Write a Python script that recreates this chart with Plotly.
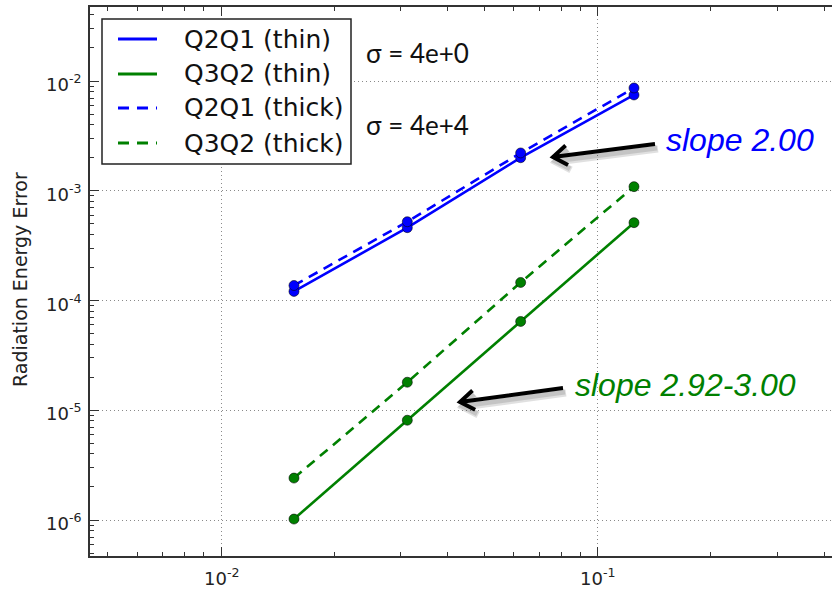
import math
import plotly.graph_objects as go

# Mesh size h and radiation energy error for each element pairing
h = [1 / 64, 1 / 32, 1 / 16, 1 / 8]
q2q1_thin = [1.21e-4, 4.61e-4, 2.00e-3, 7.46e-3]
q3q2_thin = [1.02e-6, 8.11e-6, 6.44e-5, 5.12e-4]
q2q1_thick = [1.37e-4, 5.22e-4, 2.21e-3, 8.64e-3]
q3q2_thick = [2.41e-6, 1.80e-5, 1.46e-4, 1.09e-3]

series_names = ["Q2Q1 (thin)", "Q3Q2 (thin)", "Q2Q1 (thick)", "Q3Q2 (thick)"]
series_values = [q2q1_thin, q3q2_thin, q2q1_thick, q3q2_thick]
series_colors = ["#0000ff", "#008000", "#0000ff", "#008000"]
series_dash = ["solid", "solid", "10px,7px", "10px,7px"]

sigma_labels = ["σ = 4e+0", "σ = 4e+4"]
slope_labels = ["slope 2.00", "slope 2.92-3.00"]

x_major = [1e-2, 1e-1]
x_major_text = ["10<sup>-2</sup>", "10<sup>-1</sup>"]
y_major = [1e-6, 1e-5, 1e-4, 1e-3, 1e-2]
y_major_text = ["10<sup>-6</sup>", "10<sup>-5</sup>", "10<sup>-4</sup>",
                "10<sup>-3</sup>", "10<sup>-2</sup>"]

W, H = 832, 589
L, R, T, B = 90, 832, 7, 556


def px(x):
    return (x - L) / (R - L)


def py(y):
    return (B - y) / (B - T)


def minor_vals(lo_exp, hi_exp):
    return [m * 10 ** e for e in range(lo_exp, hi_exp + 1) for m in range(2, 10)]


fig = go.Figure()
for name, vals, col, dash in zip(series_names, series_values, series_colors, series_dash):
    fig.add_trace(go.Scatter(
        x=h, y=vals, name=name, mode="lines+markers", showlegend=False,
        line=dict(color=col, width=2.6, dash=dash),
        marker=dict(symbol="circle", size=10, color=col,
                    line=dict(color="rgba(0,0,0,0.55)", width=1)),
    ))

shapes = []
annotations = []

# Power-of-ten tick labels (superscript exponents)
tick_font = dict(family="DejaVu Sans", size=18, color="#222")
for v, txt in zip(x_major, x_major_text):
    annotations.append(dict(xref="x", x=math.log10(v), yref="paper", y=py(577),
                            xanchor="center", yanchor="middle", showarrow=False,
                            text=txt, font=tick_font))
for v, txt in zip(y_major, y_major_text):
    annotations.append(dict(xref="paper", x=px(83), yref="y", y=math.log10(v),
                            xanchor="right", yanchor="middle", showarrow=False,
                            yshift=-2, text=txt, font=tick_font))

# Legend box with line samples
shapes.append(dict(type="rect", xref="paper", yref="paper",
                   x0=px(102), x1=px(351), y0=py(164), y1=py(19),
                   line=dict(color="#222", width=1.5), fillcolor="white", layer="above"))
row_y = [39, 74, 108, 143]
for name, col, dash, ry in zip(series_names, series_colors, series_dash, row_y):
    shapes.append(dict(type="line", xref="paper", yref="paper",
                       x0=px(118), x1=px(157), y0=py(ry), y1=py(ry),
                       line=dict(color=col, width=3, dash=("solid" if dash == "solid" else "11px,8px")),
                       layer="above"))
    annotations.append(dict(xref="paper", yref="paper", x=px(182), y=py(ry),
                            xanchor="left", yanchor="middle", showarrow=False, text=name,
                            font=dict(family="DejaVu Sans", size=25, color="#111")))

# Material opacity labels
for lab, sy in zip(sigma_labels, [53, 125]):
    annotations.append(dict(xref="paper", yref="paper", x=px(364), y=py(sy),
                            xanchor="left", yanchor="middle", showarrow=False, text=lab,
                            font=dict(family="Lato", size=26, color="#111")))

# Convergence-rate labels
for lab, col, (lx, ly) in zip(slope_labels, ["#0000ff", "#008000"], [(664, 140), (573, 385)]):
    annotations.append(dict(xref="paper", yref="paper", x=px(lx), y=py(ly),
                            xanchor="left", yanchor="middle", showarrow=False, text=lab,
                            font=dict(family="Liberation Sans", size=32, color=col,
                                      style="italic")))

# Arrows pointing at the convergence lines (with soft drop shadow)
arrows = [((655, 144), (553, 157)), ((563, 388), (460, 402))]


def arrow_path(tail, head, dx=0.0, dy=0.0):
    tx, ty = tail[0] + dx, tail[1] + dy
    hx, hy = head[0] + dx, head[1] + dy
    vx, vy = tx - hx, ty - hy
    n = math.hypot(vx, vy)
    vx, vy = vx / n, vy / n
    pts = []
    for ang in (math.radians(35), math.radians(-35)):
        c, s = math.cos(ang), math.sin(ang)
        wx = hx + 17 * (vx * c - vy * s)
        wy = hy + 17 * (vx * s + vy * c)
        pts.append((wx, wy))
    p = f"M {px(tx)},{py(ty)} L {px(hx)},{py(hy)} "
    p += f"M {px(pts[0][0])},{py(pts[0][1])} L {px(hx)},{py(hy)} L {px(pts[1][0])},{py(pts[1][1])}"
    return p


for tail, head in arrows:
    for off, w in [((3, 5), 7), ((2, 4), 5)]:
        shapes.append(dict(type="path", xref="paper", yref="paper",
                           path=arrow_path(tail, head, *off),
                           line=dict(color="rgba(0,0,0,0.12)", width=w), layer="above"))
    shapes.append(dict(type="path", xref="paper", yref="paper",
                       path=arrow_path(tail, head),
                       line=dict(color="#000", width=4), layer="above"))

# Y-axis title
annotations.append(dict(xref="paper", yref="paper", x=px(20), y=py(280),
                        xanchor="center", yanchor="middle", showarrow=False,
                        text="Radiation Energy Error", textangle=-90,
                        font=dict(family="DejaVu Sans", size=19, color="#222")))

axis_common = dict(
    type="log", showline=True, linecolor="#333", linewidth=2,
    ticks="inside", ticklen=9, tickwidth=1, tickcolor="#333",
    showgrid=True, gridcolor="#8a8a8a", gridwidth=1, griddash="1px,3px",
    zeroline=False, tickmode="array", showticklabels=False,
)

fig.update_layout(
    width=W, height=H,
    margin=dict(l=L, r=W - R, t=T, b=H - B),
    paper_bgcolor="white", plot_bgcolor="white",
    xaxis=dict(**axis_common,
               range=[-2 - (221 - L) / 376.5, -1 + (R - 597.5) / 376.5],
               tickvals=x_major, mirror="ticks",
               minor=dict(tickmode="array", tickvals=minor_vals(-3, -1),
                          ticks="inside", ticklen=4, tickcolor="#333", showgrid=False)),
    yaxis=dict(**axis_common,
               range=[-6 - (B - 520) / 109.75, -2 + (81 - T) / 109.75],
               tickvals=y_major, mirror=False,
               minor=dict(tickmode="array", tickvals=minor_vals(-7, -2),
                          ticks="inside", ticklen=4, tickcolor="#333", showgrid=False)),
    shapes=shapes,
    annotations=annotations,
    showlegend=False,
)

fig.write_html("out.html")
